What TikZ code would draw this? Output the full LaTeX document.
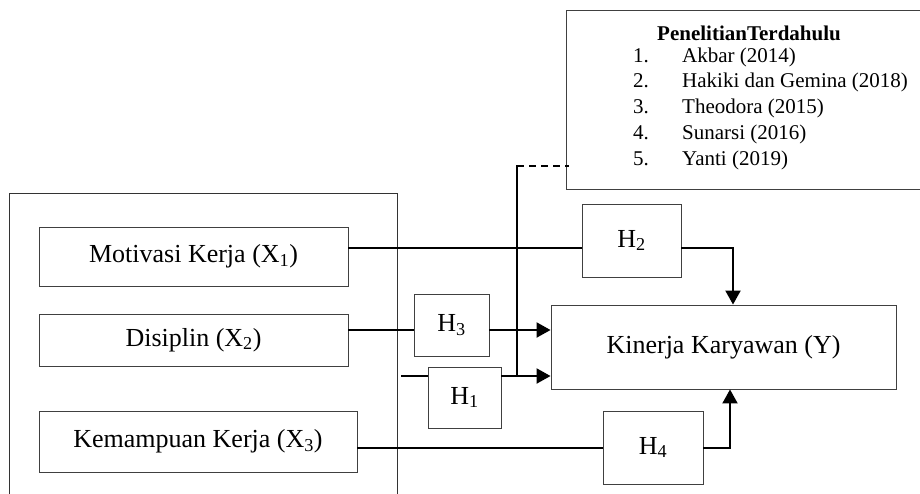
\documentclass[tikz,border=0pt]{standalone}
\usepackage{fontspec}
\setmainfont{Liberation Serif}
\usetikzlibrary{arrows.meta}
\begin{document}
\begin{tikzpicture}[x=1pt,y=-1pt,
  box/.style={draw=black!75,line width=0.9pt,inner sep=0pt,font=\fontsize{26}{30}\selectfont},
  conn/.style={line width=2pt,black},
  arr/.style={conn,-{Triangle[length=14pt,width=15pt]}},
  small/.style={inner sep=0pt,font=\fontsize{21}{25.8}\selectfont}
]
\useasboundingbox (0,0) rectangle (920,493);
% outer frame
\draw[line width=0.9pt,black!80] (9,500) -- (9,193) -- (397,193) -- (397,500);
% row coordinates
\coordinate (r1) at (0,248);
\coordinate (r2) at (0,330);
\coordinate (r3) at (0,376);
\coordinate (r4) at (0,448);
% nodes
\node[box,minimum width=309pt,minimum height=59pt] (mot) at (193.5,256.5) {Motivasi Kerja (X\textsubscript{1})};
\node[box,minimum width=309pt,minimum height=52pt] (dis) at (193.5,340) {Disiplin (X\textsubscript{2})};
\node[box,minimum width=318pt,minimum height=61pt] (kem) at (198,441.5) {Kemampuan Kerja (X\textsubscript{3})};
\node[box,minimum width=345pt,minimum height=84pt] (kin) at (723.5,347) {Kinerja Karyawan (Y)};
\node[box,minimum width=99pt,minimum height=73pt] (h2) at (631.5,240.5) {H\textsubscript{2}};
\node[box,minimum width=75pt,minimum height=62pt] (h3) at (451.5,325) {H\textsubscript{3}};
\node[box,minimum width=73pt,minimum height=61pt] (h1) at (464.5,397.5) {H\textsubscript{1}};
\node[box,minimum width=100pt,minimum height=73pt] (h4) at (653,447.5) {H\textsubscript{4}};
\node[box,minimum width=364pt,minimum height=179pt] (res) at (748,99.5) {};
\node[small,font=\fontsize{21}{25.8}\selectfont\bfseries,anchor=base] (title) at (749,40) {PenelitianTerdahulu};
\node[small,anchor=base west] (list) at (633,62) {\begin{tabular}[t]{@{}p{49pt}@{}l@{}}
1. & Akbar (2014)\\
2. & Hakiki dan Gemina (2018)\\
3. & Theodora (2015)\\
4. & Sunarsi (2016)\\
5. & Yanti (2019)
\end{tabular}};
% connectors
\coordinate (s1) at (401,376);
\coordinate (vb) at (517,376);
\coordinate (vt) at (517,165);
\draw[conn] (mot.east |- r1) -- (h2.west |- r1);
\draw[arr] (h2.east |- r1) -| ([xshift=9.5pt]kin.north);
\draw[conn] (dis.east |- r2) -- (h3.west |- r2);
\draw[arr] (h3.east |- r2) -- (kin.west |- r2);
\draw[conn] (s1) -- (h1.west |- r3);
\draw[arr] (h1.east |- r3) -- (kin.west |- r3);
\draw[conn] (kem.east |- r4) -- (h4.west |- r4);
\draw[arr] (h4.east |- r4) -| ([xshift=6.5pt]kin.south);
\draw[conn] (vb) -- (vt);
\draw[conn,dash pattern=on 7pt off 5pt] ([yshift=-1pt]vt) -- ([xshift=3pt,yshift=-1pt]res.west |- vt);
\end{tikzpicture}
\end{document}
